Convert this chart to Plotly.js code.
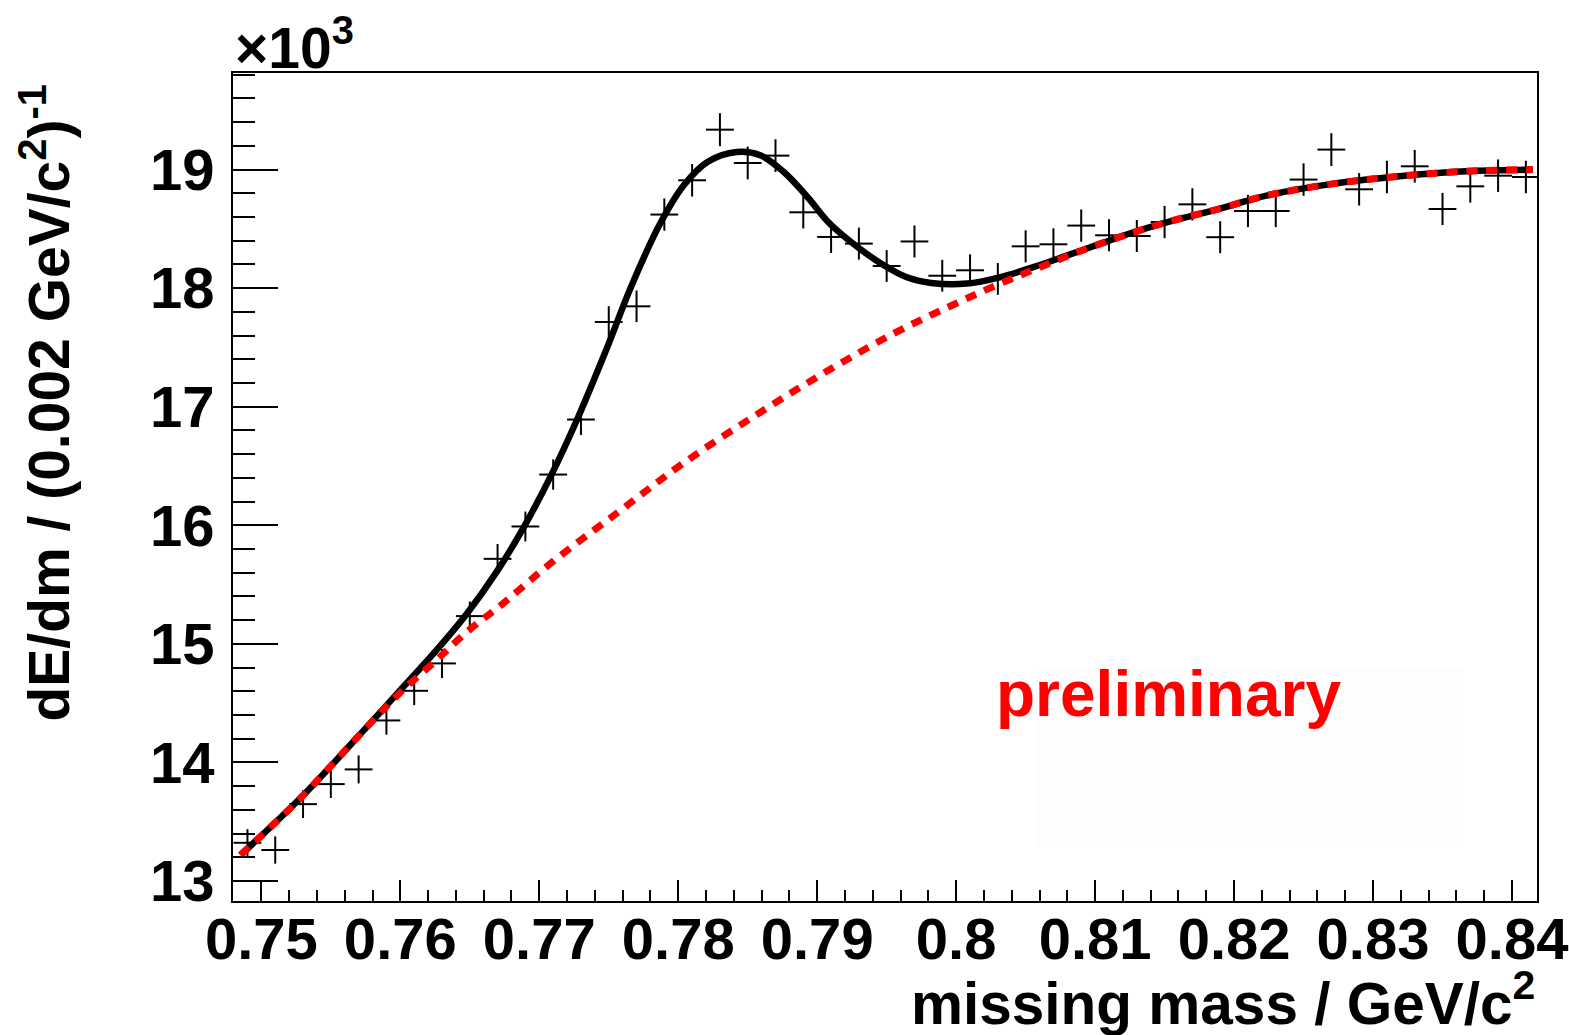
<!DOCTYPE html>
<html>
<head>
<meta charset="utf-8">
<script src="https://cdn.plot.ly/plotly-3.0.1.min.js"></script>
<style>
  html, body { margin: 0; padding: 0; background: #ffffff; }
  #chart { width: 1569px; height: 1035px; }
</style>
</head>
<body>
<div id="chart"></div>
<script>
// ---- data (y in units of 10^3) ----
const massBins = [0.749,0.751,0.753,0.755,0.757,0.759,0.761,0.763,0.765,0.767,0.769,0.771,0.773,0.775,0.777,0.779,0.781,0.783,0.785,0.787,0.789,0.791,0.793,0.795,0.797,0.799,0.801,0.803,0.805,0.807,0.809,0.811,0.813,0.815,0.817,0.819,0.821,0.823,0.825,0.827,0.829,0.831,0.833,0.835,0.837,0.839,0.841];
const counts = [13.322,13.261,13.648,13.817,13.941,14.354,14.604,14.835,15.234,15.717,15.990,16.428,16.892,17.715,17.847,18.621,18.910,19.337,19.056,19.118,18.640,18.432,18.376,18.187,18.394,18.105,18.151,18.078,18.353,18.370,18.528,18.446,18.440,18.558,18.707,18.430,18.651,18.651,18.916,19.169,18.834,18.938,19.028,18.668,18.859,18.949,18.938];
const countErrors = [0.115,0.115,0.117,0.117,0.118,0.120,0.121,0.122,0.123,0.125,0.126,0.128,0.130,0.133,0.133,0.136,0.137,0.139,0.138,0.138,0.136,0.135,0.135,0.134,0.135,0.134,0.134,0.134,0.135,0.135,0.136,0.135,0.135,0.136,0.136,0.135,0.136,0.136,0.137,0.138,0.137,0.137,0.138,0.136,0.137,0.137,0.137];
const binHalfWidth = 0.001;

// total fit curve
const fitX = [0.7485,0.7528,0.7576,0.7600,0.7624,0.7648,0.7670,0.7689,0.7708,0.7727,0.7749,0.7766,0.7787,0.7804,0.7821,0.7842,0.7859,0.7876,0.7893,0.7909,0.7929,0.7948,0.7964,0.7982,0.8008,0.8032,0.8056,0.8080,0.8104,0.8128,0.8152,0.8190,0.8224,0.8272,0.8319,0.8367,0.8415];
const fitY = [13.218,13.697,14.300,14.610,14.919,15.256,15.620,15.987,16.408,16.886,17.504,18.010,18.545,18.868,19.064,19.148,19.121,18.980,18.769,18.545,18.347,18.193,18.094,18.044,18.039,18.094,18.179,18.277,18.376,18.474,18.558,18.671,18.783,18.882,18.944,18.986,19.000];

// background curve
const bgX = [0.7485,0.7528,0.7576,0.7600,0.7626,0.7648,0.7674,0.7708,0.7757,0.7805,0.7860,0.7910,0.7957,0.7996,0.8029,0.8063,0.8104,0.8152,0.8190,0.8224,0.8272,0.8319,0.8367,0.8415];
const bgY = [13.218,13.697,14.300,14.590,14.863,15.101,15.341,15.678,16.113,16.535,16.960,17.320,17.630,17.850,18.025,18.190,18.376,18.558,18.671,18.783,18.882,18.944,18.986,19.000];

// ticks
const xTickVals = [0.75,0.76,0.77,0.78,0.79,0.80,0.81,0.82,0.83,0.84];
const xTickText = ["0.75","0.76","0.77","0.78","0.79","0.8","0.81","0.82","0.83","0.84"];
const yTickVals = [13,14,15,16,17,18,19];
const yTickText = ["13","14","15","16","17","18","19"];

const FONT = "Liberation Sans, Arial, Helvetica, sans-serif";

const traces = [
  {
    type: "scatter", mode: "markers",
    x: massBins, y: counts,
    marker: { size: 1, color: "rgba(0,0,0,0)" },
    error_y: { type: "data", array: countErrors, visible: true, color: "#000", thickness: 2, width: 0 },
    error_x: { type: "constant", value: binHalfWidth, visible: true, color: "#000", thickness: 2, width: 0 },
    showlegend: false, hoverinfo: "skip"
  },
  {
    type: "scatter", mode: "lines",
    x: fitX, y: fitY,
    line: { color: "#000000", width: 6.5, shape: "spline", smoothing: 1 },
    showlegend: false, hoverinfo: "skip"
  },
  {
    type: "scatter", mode: "lines",
    x: bgX, y: bgY,
    line: { color: "#ff0000", width: 7, dash: "11px,9px", shape: "spline", smoothing: 1 },
    showlegend: false, hoverinfo: "skip"
  }
];

const layout = {
  width: 1569, height: 1035,
  margin: { l: 233, r: 32, t: 73, b: 134, pad: 0 },
  paper_bgcolor: "#ffffff", plot_bgcolor: "#ffffff",
  showlegend: false,
  font: { family: FONT, color: "#000", size: 58, weight: "bold" },
  xaxis: {
    range: [0.74796, 0.84180],
    showgrid: false, zeroline: false,
    showline: true, linecolor: "#000", linewidth: 2, mirror: true,
    ticks: "inside", ticklen: 21, tickwidth: 2, tickcolor: "#000",
    tickmode: "array", tickvals: xTickVals, ticktext: xTickText,
    ticklabelstandoff: -14,
    tickfont: { family: FONT, size: 58, weight: "bold", color: "#000" },
    minor: { ticks: "inside", ticklen: 11, tickwidth: 2, tickcolor: "#000", tickmode: "linear", tick0: 0.75, dtick: 0.002, showgrid: false }
  },
  yaxis: {
    range: [12.831, 19.815],
    showgrid: false, zeroline: false,
    showline: true, linecolor: "#000", linewidth: 2, mirror: true,
    ticks: "inside", ticklen: 45, tickwidth: 2, tickcolor: "#000",
    tickmode: "array", tickvals: yTickVals, ticktext: yTickText,
    ticklabelstandoff: 5,
    tickfont: { family: FONT, size: 58, weight: "bold", color: "#000" },
    minor: { ticks: "inside", ticklen: 22, tickwidth: 2, tickcolor: "#000", tickmode: "linear", tick0: 13, dtick: 0.2, showgrid: false }
  },
  shapes: [
    { type: "rect", xref: "paper", yref: "paper", x0: 0.6150, x1: 0.9440, y0: 0.0652, y1: 0.2814,
      fillcolor: "rgb(253,253,253)", line: { width: 0 }, layer: "below" }
  ],
  annotations: [
    { text: "×10<sup>3</sup>", xref: "paper", yref: "paper", x: 0.0, y: 1.0, xanchor: "left", yanchor: "bottom",
      xshift: 0, yshift: -9, showarrow: false, font: { family: FONT, size: 57, weight: "bold", color: "#000" } },
    { text: "missing mass / GeV/c<sup>2</sup>", xref: "paper", yref: "paper", x: 1.0, y: 0, xanchor: "right", yanchor: "top",
      yshift: -59, xshift: 0, showarrow: false, font: { family: FONT, size: 58.5, weight: "bold", color: "#000" } },
    { text: "dE/dm / (0.002 GeV/c<sup>2</sup>)<sup>-1</sup>", xref: "paper", yref: "paper", x: 0, y: 1.0, xanchor: "center", yanchor: "top",
      xshift: -188, yshift: -10, textangle: -90, showarrow: false, font: { family: FONT, size: 57, weight: "bold", color: "#000" } },
    { text: "preliminary", xref: "x", yref: "y", x: 0.81531, y: 14.58, xanchor: "center", yanchor: "middle",
      showarrow: false, font: { family: FONT, size: 64, weight: "bold", color: "#ff0000" } }
  ]
};

Plotly.newPlot("chart", traces, layout, { displayModeBar: false, staticPlot: true });
</script>
</body>
</html>
